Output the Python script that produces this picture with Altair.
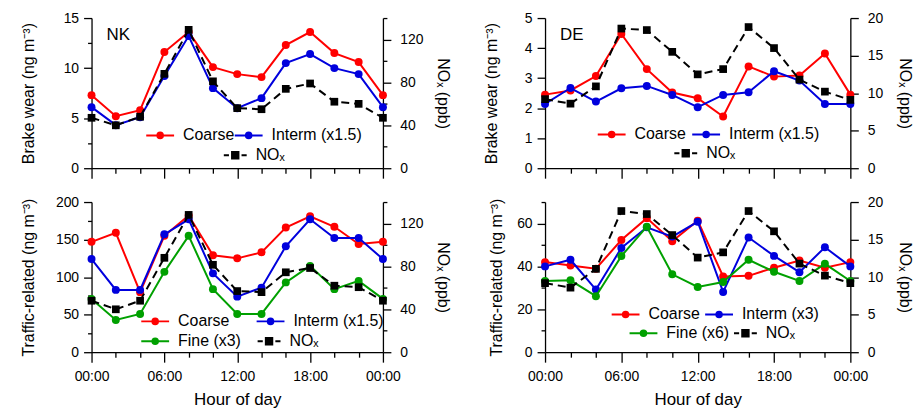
import altair as alt
import pandas as pd

hours = list(range(0, 25, 2))

# NK, brake wear (ng m-3) and NOx (ppb)
nk_brake_coarse = [7.3, 5.2, 5.8, 11.6, 13.6, 10.1, 9.4, 9.1, 12.3, 13.6, 11.5, 10.6, 7.3]
nk_brake_interm = [6.1, 4.3, 5.1, 9.2, 13.2, 8.0, 6.0, 7.0, 10.5, 11.4, 10.0, 9.4, 6.1]
nk_brake_nox = [47, 40, 48, 88, 129, 81, 56, 55, 74, 79, 62, 60, 47]

# DE, brake wear
de_brake_coarse = [2.45, 2.59, 3.07, 4.47, 3.30, 2.52, 2.33, 1.72, 3.39, 3.05, 3.09, 3.82, 2.45]
de_brake_interm = [2.14, 2.67, 2.22, 2.66, 2.74, 2.44, 2.03, 2.44, 2.53, 3.23, 2.92, 2.14, 2.14]
de_brake_nox = [9.2, 8.6, 10.9, 18.6, 18.4, 15.5, 12.5, 13.2, 18.8, 16.0, 11.8, 10.2, 9.1]

# NK, traffic-related
nk_traf_coarse = [147, 159, 80, 155, 182, 129, 125, 133, 166, 181, 167, 144, 147]
nk_traf_interm = [124, 83, 83, 157, 177, 105, 74, 86, 141, 177, 152, 152, 124]
nk_traf_fine = [71, 43, 51, 107, 155, 84, 51, 51, 93, 115, 84, 95, 71]
nk_traf_nox = [48, 40, 48, 88, 128, 81.5, 57, 56, 74.5, 78.5, 62, 60.6, 48]

# DE, traffic-related
de_traf_coarse = [42, 40.4, 38.9, 52.3, 62.5, 51.7, 61.3, 35.3, 35.6, 39.4, 42.7, 39.4, 42]
de_traf_interm = [40, 43.1, 29.2, 48.6, 58.2, 53.9, 60.8, 28.1, 53.5, 44.9, 37.3, 48.9, 40]
de_traf_fine = [33.2, 33.5, 26.1, 44.8, 58.5, 36.3, 30.4, 32.7, 43.1, 37.5, 33.2, 41.2, 33.2]
de_traf_nox = [9.2, 8.6, 11.1, 18.8, 18.4, 15.6, 12.6, 13.3, 18.8, 16.1, 11.8, 10.2, 9.2]

FONT = "Liberation Sans"
RED, BLUE, GREEN, BLACK = "#ff0000", "#0000dd", "#00a000", "#000000"

CIRCLE_SYM = "M-1,0L1,0M-0.2,0A0.2,0.2 0 1,0 0.2,0A0.2,0.2 0 1,0 -0.2,0Z"
SQUARE_SYM = "M-1,0L-0.55,0M0.55,0L1,0M-0.28,-0.28L0.28,-0.28L0.28,0.28L-0.28,0.28Z"


def x_axis(bottom):
    common = dict(
        orient="bottom", values=hours, grid=False, labelFlush=False, labelOverlap=False,
        labelBound=False,
        tickSize={"condition": {"test": "datum.value % 6 === 0", "value": 10}, "value": 5},
    )
    if bottom:
        return alt.Axis(
            **common,
            labelExpr="datum.value % 6 === 0 ? ((datum.value % 24) < 10 ? '0' : '') + (datum.value % 24) + ':00' : ''",
            labelFontSize=14, labelPadding=7, labelAlign="center", title="Hour of day",
            titleFontSize=17, titleFontWeight="normal", titlePadding=9,
        )
    return alt.Axis(**common, labels=False, title=None)


def y_axis(orient, values, major, title, title_pad, label_pad):
    return alt.Axis(
        orient=orient, values=values, grid=False,
        labelExpr=f"datum.value % {major} === 0 ? datum.label : ''",
        tickSize={"condition": {"test": f"datum.value % {major} === 0", "value": 8}, "value": 4},
        title=title, titlePadding=title_pad, labelPadding=label_pad,
        labelFontSize=14, titleFontSize=16, titleFontWeight="normal",
    )


def series(name, vals, color, marker, ydomain, yaxis, xaxis, lx, ly):
    df = pd.DataFrame({"hour": hours, "value": vals, "series": name})
    base = alt.Chart(df)
    x = alt.X("hour:Q", scale=alt.Scale(domain=[0, 24], nice=False), axis=xaxis)
    y = alt.Y("value:Q", scale=alt.Scale(domain=ydomain, nice=False, zero=False), axis=yaxis)
    if marker == "circle":
        line = base.mark_line(color=color, strokeWidth=2).encode(x=x, y=y)
        pts = base.mark_circle(size=64, opacity=1)
        sym, ssize = CIRCLE_SYM, 784
        ly_top = ly - 14
    else:
        line = base.mark_line(color=color, strokeWidth=2, strokeDash=[8, 5]).encode(x=x, y=y)
        pts = base.mark_square(size=60, opacity=1)
        sym, ssize = SQUARE_SYM, 529
        ly_top = ly - 11.5
    legend = alt.Legend(
        title=None, orient="none", legendX=lx, legendY=ly_top,
        symbolType=sym, symbolSize=ssize, symbolStrokeWidth=2,
        symbolFillColor=color, symbolStrokeColor=color, symbolOpacity=1,
        labelFontSize=16, labelFont=FONT, labelColor="black", labelOffset=8, padding=0,
    )
    col = alt.Color("series:N", scale=alt.Scale(domain=[name], range=[color]), legend=legend)
    pts = pts.encode(x=x, y=y, color=col)
    if marker == "circle":
        return alt.layer(line, pts)
    return alt.layer(pts, line)


def panel(label, width, bottom, left_dom, left_vals, left_major, left_title, left_tp,
          right_vals, right_major, right_tp, items):
    xa = x_axis(bottom)
    layers = []
    first = True
    for name, vals, color, marker, lx, ly in items:
        if marker == "square":
            ydom = [0, right_vals[-1]]
            ya = y_axis("right", right_vals, right_major, "NOₓ (ppb)", right_tp, 9)
        else:
            ydom = left_dom
            ya = y_axis("left", left_vals, left_major, left_title, left_tp, 5) if first else None
            first = False
        layers.append(series(name, vals, color, marker, ydom, ya, xa, lx, ly))
    txt = alt.Chart(pd.DataFrame({"label": [label]})).mark_text(
        align="left", baseline="middle", fontSize=17, font=FONT, color="black"
    ).encode(x=alt.value(15), y=alt.value(17), text="label:N")
    layers.append(txt)
    return alt.layer(*layers).resolve_scale(y="independent", color="independent").properties(
        width=width, height=151
    )


brake_title = "Brake wear (ng m⁻³)"
traf_title = "Traffic-related (ng m⁻³)"

p_nk_top = panel(
    "NK", 293, False, [0, 15], [x * 2.5 for x in range(7)], 5, brake_title, 27,
    list(range(0, 141, 20)), 40, 12,
    [
        ("Coarse", nk_brake_coarse, RED, "circle", 54, 117),
        ("Interm (x1.5)", nk_brake_interm, BLUE, "circle", 143, 117),
        ("NOₓ", nk_brake_nox, BLACK, "square", 132, 137),
    ],
)
p_de_top = panel(
    "DE", 307, False, [0, 5], [0, 1, 2, 3, 4, 5], 1, brake_title, 25,
    [0, 5, 10, 15, 20], 5, 14,
    [
        ("Coarse", de_brake_coarse, RED, "circle", 52, 116),
        ("Interm (x1.5)", de_brake_interm, BLUE, "circle", 147, 116),
        ("NOₓ", de_brake_nox, BLACK, "square", 129, 135),
    ],
)
p_nk_bot = panel(
    "", 293, True, [0, 200], list(range(0, 201, 25)), 50, traf_title, 19,
    list(range(0, 141, 20)), 40, 12,
    [
        ("Coarse", nk_traf_coarse, RED, "circle", 49, 119),
        ("Interm (x1.5)", nk_traf_interm, BLUE, "circle", 165, 119),
        ("Fine (x3)", nk_traf_fine, GREEN, "circle", 49, 139),
        ("NOₓ", nk_traf_nox, BLACK, "square", 166, 139),
    ],
)
p_de_bot = panel(
    "", 307, True, [0, 70], list(range(0, 71, 10)), 20, traf_title, 12,
    [0, 5, 10, 15, 20], 5, 14,
    [
        ("Coarse", de_traf_coarse, RED, "circle", 66, 112),
        ("Interm (x3)", de_traf_interm, BLUE, "circle", 160, 112),
        ("Fine (x6)", de_traf_fine, GREEN, "circle", 84, 131),
        ("NOₓ", de_traf_nox, BLACK, "square", 189, 131),
    ],
)

chart = alt.concat(
    p_nk_top, p_de_top, p_nk_bot, p_de_bot,
    columns=2, spacing={"row": 34, "column": 163}, bounds="flush",
).resolve_scale(color="independent").properties(
    padding={"left": 12, "top": 2, "right": 0, "bottom": 0}
).configure(font=FONT).configure_view(stroke=None).configure_axis(
    domainColor="black", tickColor="black", labelColor="black", titleColor="black",
    domainWidth=1.3, tickWidth=1.3, labelFont=FONT, titleFont=FONT,
)

chart.save("out.html", embed_options={"renderer": "svg", "actions": False})
